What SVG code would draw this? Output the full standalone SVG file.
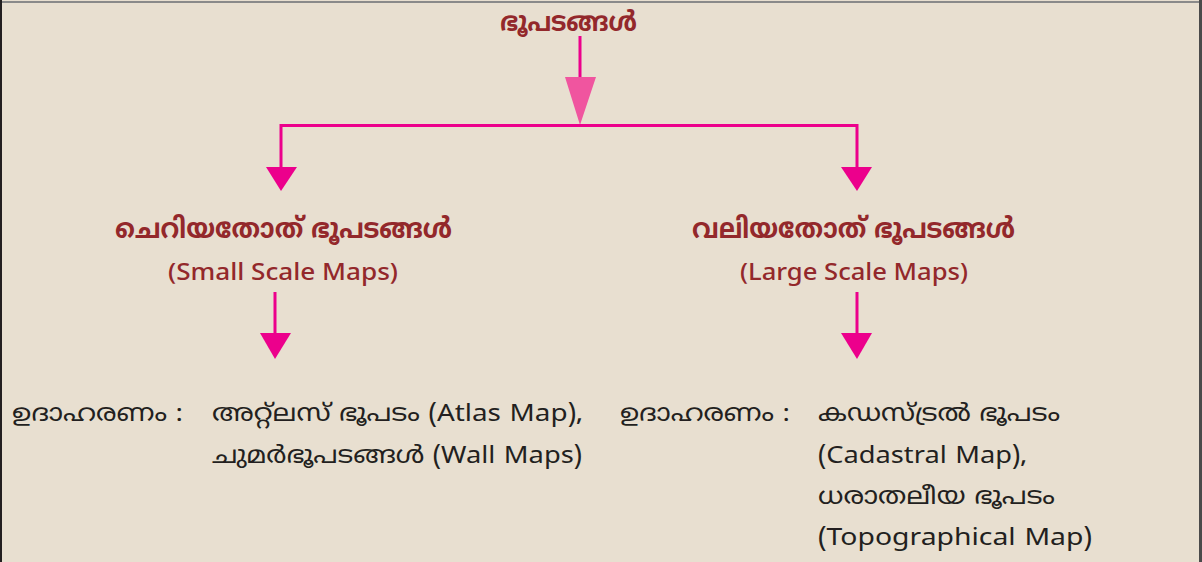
<svg xmlns="http://www.w3.org/2000/svg" width="1202" height="562" viewBox="0 0 1202 562">
<style>
.bg{fill:#E8DFD0}
.ln{stroke:#EC008C;stroke-width:3;fill:none}
.hd{fill:#EC008C}
.t1{font-family:"Noto Sans Malayalam","Noto Sans","DejaVu Sans",sans-serif;font-weight:bold;fill:#93282B;text-anchor:middle}
.t2{font-family:"Noto Sans","Open Sans",sans-serif;font-weight:500;fill:#93282B;text-anchor:middle;font-size:23px}
.t3{font-family:"Noto Sans Malayalam","Noto Sans","DejaVu Sans",sans-serif;fill:#231F20;font-size:24px}
</style>
<rect class="bg" x="0" y="0" width="1202" height="562"/>
<line x1="0" y1="2" x2="1202" y2="2" stroke="#8A8A8A" stroke-width="2"/>
<line x1="1" y1="0" x2="1" y2="562" stroke="#231F20" stroke-width="2"/>
<line x1="1200.5" y1="0" x2="1200.5" y2="562" stroke="#4A4A4A" stroke-width="3"/>
<g id="connectors">
<line class="ln" x1="580" y1="36" x2="580" y2="80"/>
<polygon points="565,77 596,77 580,125" fill="#F0559F"/>
<polyline class="ln" points="281,169 281,125.5 857,125.5 857,169"/>
<polygon class="hd" points="266,167 297,167 281,191"/>
<polygon class="hd" points="841,167 872,167 857,191"/>
<line class="ln" x1="275" y1="292" x2="275" y2="335"/>
<polygon class="hd" points="260,333 291,333 275,359"/>
<line class="ln" x1="857" y1="292" x2="857" y2="335"/>
<polygon class="hd" points="841,333 872,333 857,359"/>
</g>
<g id="root"><text class="t1" x="568.5" y="31" font-size="27" textLength="137" lengthAdjust="spacingAndGlyphs">ഭൂപടങ്ങൾ</text></g>
<g id="small">
<text class="t1" x="283.5" y="238" font-size="28" textLength="337" lengthAdjust="spacingAndGlyphs">ചെറിയതോത് ഭൂപടങ്ങൾ</text>
<text class="t2" x="283" y="280" textLength="230" lengthAdjust="spacingAndGlyphs">(Small Scale Maps)</text>
</g>
<g id="large">
<text class="t1" x="853.5" y="238" font-size="28" textLength="323" lengthAdjust="spacingAndGlyphs">വലിയതോത് ഭൂപടങ്ങൾ</text>
<text class="t2" x="854" y="280" textLength="228" lengthAdjust="spacingAndGlyphs">(Large Scale Maps)</text>
</g>
<g id="small-examples">
<text class="t3" x="12" y="421" textLength="171" lengthAdjust="spacingAndGlyphs">ഉദാഹരണം :</text>
<text class="t3" x="212" y="421" textLength="371" lengthAdjust="spacingAndGlyphs">അറ്റ്ലസ് ഭൂപടം (Atlas Map),</text>
<text class="t3" x="212" y="463" textLength="370" lengthAdjust="spacingAndGlyphs">ചുമർഭൂപടങ്ങൾ (Wall Maps)</text>
</g>
<g id="large-examples">
<text class="t3" x="620" y="421" textLength="170" lengthAdjust="spacingAndGlyphs">ഉദാഹരണം :</text>
<text class="t3" x="818" y="421" textLength="242" lengthAdjust="spacingAndGlyphs">കഡസ്ട്രൽ ഭൂപടം</text>
<text class="t3" x="818" y="463" textLength="209" lengthAdjust="spacingAndGlyphs">(Cadastral Map),</text>
<text class="t3" x="818" y="504" textLength="237" lengthAdjust="spacingAndGlyphs">ധരാതലീയ ഭൂപടം</text>
<text class="t3" x="818" y="545" textLength="274" lengthAdjust="spacingAndGlyphs">(Topographical Map)</text>
</g>
</svg>
